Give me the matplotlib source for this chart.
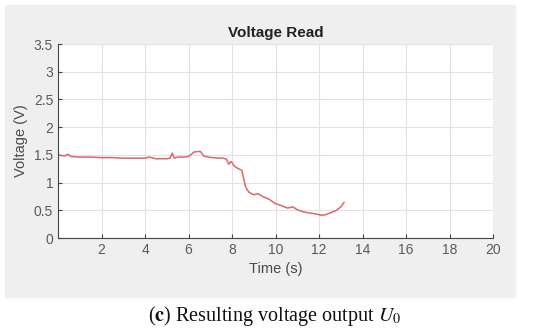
import matplotlib
matplotlib.use("Agg")
import matplotlib.pyplot as plt
from matplotlib.patches import Rectangle

# values
time_s = [0.0, 0.15, 0.3, 0.45, 0.6, 1.0, 1.5, 2.0, 2.5, 3.0, 3.5, 4.0, 4.2, 4.5, 5.0,
          5.15, 5.25, 5.35, 5.5, 5.8, 6.0, 6.1, 6.25, 6.4, 6.55, 6.7, 6.9, 7.1, 7.4,
          7.6, 7.75, 7.85, 7.95, 8.0, 8.1, 8.25, 8.45, 8.55, 8.62, 8.7, 8.8, 9.0,
          9.2, 9.4, 9.7, 10.0, 10.3, 10.55, 10.8, 11.0, 11.3, 11.6, 11.9, 12.1,
          12.3, 12.5, 12.8, 13.0, 13.15]
voltage = [1.50, 1.49, 1.48, 1.51, 1.47, 1.46, 1.46, 1.45, 1.45, 1.44, 1.44, 1.44, 1.46, 1.43, 1.43,
           1.44, 1.53, 1.44, 1.46, 1.46, 1.47, 1.50, 1.55, 1.56, 1.56, 1.48, 1.46, 1.45, 1.44,
           1.44, 1.42, 1.33, 1.38, 1.36, 1.30, 1.26, 1.22, 1.05, 0.93, 0.87, 0.82, 0.78,
           0.80, 0.75, 0.70, 0.62, 0.58, 0.54, 0.56, 0.51, 0.47, 0.45, 0.43, 0.41,
           0.42, 0.45, 0.50, 0.56, 0.64]

x_ticks = [2, 4, 6, 8, 10, 12, 14, 16, 18, 20]
y_ticks = [0, 0.5, 1, 1.5, 2, 2.5, 3, 3.5]
y_labels = ["0", "0.5", "1", "1.5", "2", "2.5", "3", "3.5"]

plt.rcParams["font.family"] = ["Liberation Sans", "DejaVu Sans"]
plt.rcParams["mathtext.fontset"] = "stix"

fig = plt.figure(figsize=(5.5, 3.32), dpi=100)
fig.patches.append(Rectangle((5 / 550, 1 - 297 / 332), 510 / 550, 292 / 332,
                             transform=fig.transFigure, color="#efefef", zorder=-10))

ax = fig.add_axes([58 / 550, 1 - 238 / 332, 435 / 550, 194 / 332])
ax.set_zorder(1)
ax.set_facecolor("white")
ax.plot(time_s, voltage, color="#e06565", lw=1.1)

ax.set_xlim(0, 20)
ax.set_ylim(0, 3.5)
ax.set_xticks(x_ticks)
ax.set_yticks(y_ticks)
ax.set_yticklabels(y_labels)
ax.grid(True, color="#e2e2e2", lw=0.8)
ax.set_axisbelow(True)
for side in ["top", "right"]:
    ax.spines[side].set_visible(False)
for side in ["left", "bottom"]:
    ax.spines[side].set_color("#444444")
    ax.spines[side].set_linewidth(0.8)
ax.tick_params(direction="in", length=3, color="#444444", labelcolor="#5a5a5a", labelsize=10)

ax.set_title("Voltage Read", fontsize=11, fontweight="bold", color="#222222", pad=5)
ax.set_xlabel("Time (s)", fontsize=10.5, color="#4a4a4a", labelpad=4)
ax.set_ylabel("Voltage (V)", fontsize=10.5, color="#4a4a4a", labelpad=4)

fig.text(0.5, 1 - 316 / 332, r"($\mathbf{c}$) Resulting voltage output $U_0$",
         ha="center", va="center", fontsize=14.5, family="Liberation Serif", color="#111111")

fig.savefig("out.png", dpi=100, facecolor="white")
